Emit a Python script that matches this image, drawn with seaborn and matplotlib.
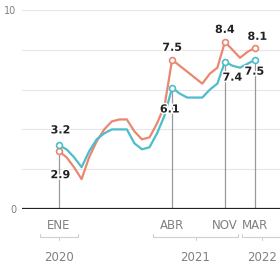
import matplotlib
matplotlib.use("Agg")
import matplotlib.pyplot as plt
import matplotlib.patheffects as pe
import matplotlib.transforms as mtrans
import numpy as np
import pandas as pd
import seaborn as sns

# monthly series, Jan 2020 .. Mar 2022
months = pd.date_range("2020-01-01", "2022-03-01", freq="MS")
red_vals = [2.9, 2.6, 2.1, 1.5, 2.6, 3.4, 4.0, 4.4, 4.5, 4.5, 3.9, 3.5, 3.6,
            4.3, 5.2, 7.5, 7.2, 6.9, 6.6, 6.3, 6.8, 7.1, 8.4, 8.0, 7.6, 7.9, 8.1]
blue_vals = [3.2, 3.0, 2.6, 2.1, 2.9, 3.5, 3.8, 4.0, 4.0, 4.0, 3.3, 3.0, 3.1,
             3.8, 4.7, 6.1, 5.8, 5.6, 5.6, 5.6, 6.0, 6.3, 7.4, 7.2, 7.1, 7.3, 7.5]
key_idx = [0, 15, 22, 26]
key_labels = ["ENE", "ABR", "NOV", "MAR"]
years = ["2020", "2021", "2022"]
year_spans = [(-2.5, 2.5), (12.5, 23.7), (24.2, 29.5)]

RED = "#ea8770"
BLUE = "#4dbccb"

df = pd.DataFrame({"m": np.arange(len(months)), "red": red_vals, "blue": blue_vals})

sns.set_style("white")
plt.rcParams["font.family"] = ["DejaVu Sans"]

fig = plt.figure(figsize=(2.8, 2.68), dpi=100)
ax = fig.add_axes([22 / 280, (268 - 209) / 268, 258 / 280, 199 / 268])

for y in [2, 4, 6, 8, 10]:
    ax.axhline(y, color="#e6e6e6", lw=0.8, zorder=0)
ax.axhline(0, color="#222222", lw=1.6, zorder=3)

# vertical guides from the lower marker to the axis
for i in key_idx:
    ax.plot([i, i], [0, min(red_vals[i], blue_vals[i])], color="#999999", lw=0.9, zorder=1)

sns.lineplot(data=df, x="m", y="red", color=RED, lw=1.6, ax=ax, zorder=4)
sns.lineplot(data=df, x="m", y="blue", color=BLUE, lw=1.6, ax=ax, zorder=5)

kd = df.iloc[key_idx]
ax.scatter(kd["m"], kd["red"], s=18, facecolor="white", edgecolor=RED, lw=1.2, zorder=6)
ax.scatter(kd["m"], kd["blue"], s=18, facecolor="white", edgecolor=BLUE, lw=1.2, zorder=6)

halo = [pe.withStroke(linewidth=2.2, foreground="white")]
lab_kw = dict(fontsize=8, fontweight="bold", color="#222222", ha="center",
              path_effects=halo, zorder=8)
# (index, series, dx, dy)
offsets = [(0, "blue", 0.2, 0.75), (0, "red", 0.2, -1.2),
           (15, "red", 0.0, 0.6), (15, "blue", -0.3, -1.1),
           (22, "red", 0.0, 0.6), (22, "blue", 1.0, -0.8),
           (26, "red", 0.3, 0.55), (26, "blue", -0.1, -0.6)]
for i, s, dx, dy in offsets:
    v = red_vals[i] if s == "red" else blue_vals[i]
    ax.text(i + dx, v + dy, f"{v:.1f}", va="center", **lab_kw)

ax.set_xlim(-4.9, 29.3)
ax.set_ylim(0, 10)
ax.set_xlabel("")
ax.set_ylabel("")
ax.set_xticks(key_idx)
ax.set_xticklabels(key_labels, fontsize=8.5, color="#808080")
ax.set_yticks([0, 10])
ax.set_yticklabels(["0", "10"], fontsize=7, color="#808080")
ax.tick_params(axis="x", length=0, pad=7)
ax.tick_params(axis="y", length=3, color="#bbbbbb", width=0.8, pad=1)
for sp in ax.spines.values():
    sp.set_visible(False)

# year brackets below the month labels
tr = mtrans.blended_transform_factory(ax.transData, ax.transAxes)
yb = -0.14
for yr, (x0, x1) in zip(years, year_spans):
    ax.plot([x0, x0, x1, x1], [yb + 0.012, yb, yb, yb + 0.012], color="#cfcfcf",
            lw=0.8, transform=tr, clip_on=False)
    xc = (x0 + min(x1, 29.3)) / 2 if yr != "2022" else 26.9
    ax.plot([xc, xc], [yb, yb - 0.015], color="#cfcfcf", lw=0.8, transform=tr, clip_on=False)
    ax.text(xc, -0.245, yr, transform=tr, ha="center", va="center",
            fontsize=8.5, color="#808080")

fig.savefig("out.png", dpi=100)
